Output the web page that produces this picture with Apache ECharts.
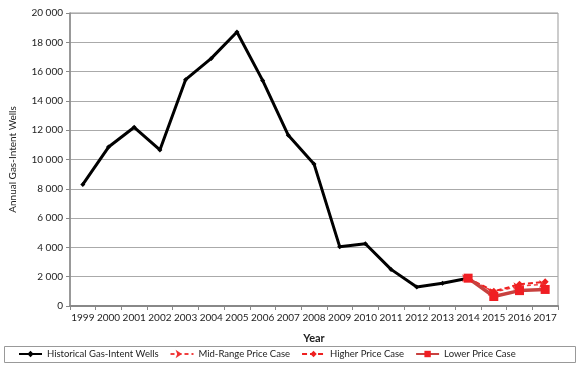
<!DOCTYPE html>
<html><head><meta charset="utf-8">
<script src="https://cdn.jsdelivr.net/npm/echarts@6/dist/echarts.min.js"></script>
<style>html,body{margin:0;padding:0;background:#fff}#c{width:580px;height:372px}</style>
</head><body><div id="c"></div>
<script>
const years = ['1999','2000','2001','2002','2003','2004','2005','2006','2007','2008','2009','2010','2011','2012','2013','2014','2015','2016','2017'];
const historical = [8300,10850,12200,10650,15450,16900,18700,15400,11650,9700,4050,4250,2500,1300,1550,1900,null,null,null];
const midRange = [null,null,null,null,null,null,null,null,null,null,null,null,null,null,null,1900,950,1350,1500];
const higher = [null,null,null,null,null,null,null,null,null,null,null,null,null,null,null,1900,1000,1480,1650];
const lower = [null,null,null,null,null,null,null,null,null,null,null,null,null,null,null,1900,650,1050,1130];
const seriesNames = ['Historical Gas-Intent Wells','Mid-Range Price Case','Higher Price Case','Lower Price Case'];

const font = 'Lato, "DejaVu Sans", sans-serif';
const chart = echarts.init(document.getElementById('c'), null, {renderer:'canvas'});
chart.setOption({
  animation:false,
  textStyle:{fontFamily:font},
  grid:{left:67,right:22,top:13,bottom:66,show:true,borderColor:'#999',borderWidth:1},
  graphic:[{type:'rect',shape:{x:4.5,y:346.5,width:571,height:16},style:{fill:'none',stroke:'#999',lineWidth:1}}],
  legend:{top:347,left:18,itemGap:11,itemWidth:23,itemHeight:8,padding:[2,0],
    textStyle:{fontSize:9.5,color:'#222',fontFamily:font},
    data:seriesNames},
  xAxis:{type:'category',data:years,boundaryGap:true,
    name:'Year',nameLocation:'middle',nameGap:27,nameTextStyle:{fontSize:11,color:'#222',fontWeight:'bold'},
    axisLine:{lineStyle:{color:'#888',width:2}},
    axisTick:{show:true,inside:false,length:4,lineStyle:{color:'#888'}},
    axisLabel:{fontSize:10,color:'#222',margin:7,interval:0}},
  yAxis:{type:'value',min:0,max:20000,interval:2000,
    name:'Annual Gas-Intent Wells',nameLocation:'middle',nameGap:52,nameRotate:90,nameTextStyle:{fontSize:10,color:'#222'},
    axisLine:{show:true,lineStyle:{color:'#888',width:1.5}},
    axisTick:{show:true,length:4,lineStyle:{color:'#888'}},
    splitLine:{lineStyle:{color:'#aaa',width:1}},
    axisLabel:{fontSize:10,color:'#222',margin:7,formatter:v=>v>=1000?String(v).replace(/(\d)(?=(\d{3})$)/,'$1 '):String(v)}},
  series:[
    {name:seriesNames[0],type:'line',data:historical,color:'#000',lineStyle:{color:'#000',width:3},symbol:'diamond',symbolSize:5,itemStyle:{color:'#000'}},
    {name:seriesNames[1],type:'line',data:midRange,color:'#f03030',lineStyle:{color:'#f04040',width:1.5,type:[4,3]},symbol:'arrow',symbolSize:6,symbolRotate:-90,itemStyle:{color:'#f03030'},z:3},
    {name:seriesNames[2],type:'line',data:higher,color:'#ee2020',lineStyle:{color:'#ee2020',width:2,type:[5,3]},symbol:'diamond',symbolSize:7,itemStyle:{color:'#ee2020'},z:4},
    {name:seriesNames[3],type:'line',data:lower,color:'#f01e23',lineStyle:{color:'#c8413f',width:3.5},symbol:'rect',symbolSize:9,itemStyle:{color:'#f01e23'},z:5}
  ]
});
</script></body></html>
